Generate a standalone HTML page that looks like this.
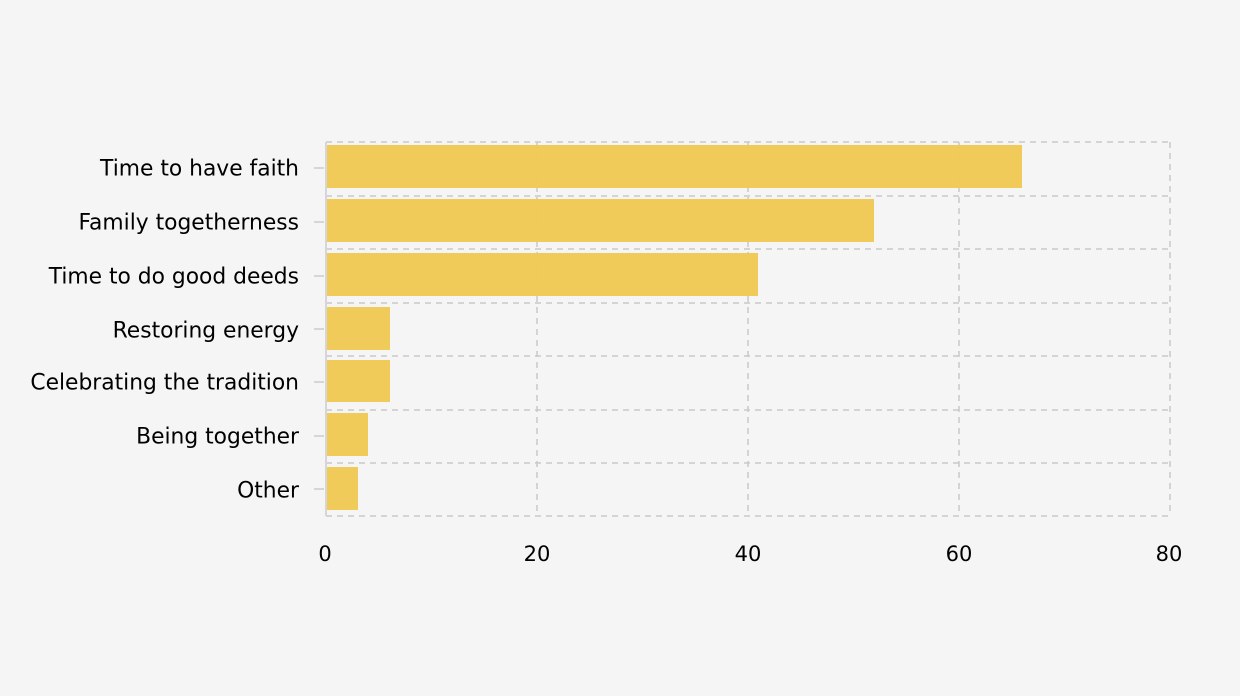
<!DOCTYPE html>
<html><head><style>
html,body{margin:0;padding:0;background:#f5f5f5;}
svg{display:block;}
text{font-family:"DejaVu Sans","Liberation Sans",sans-serif;fill:#000;}
</style></head><body>
<svg width="1240" height="696" viewBox="0 0 1240 696">
<rect width="1240" height="696" fill="#f5f5f5"/>
<g stroke="#cacaca" stroke-width="1.5" stroke-dasharray="6,5" fill="none">
<line x1="326" y1="142" x2="1170" y2="142"/>
<line x1="326" y1="196" x2="1170" y2="196"/>
<line x1="326" y1="249" x2="1170" y2="249"/>
<line x1="326" y1="303" x2="1170" y2="303"/>
<line x1="326" y1="356" x2="1170" y2="356"/>
<line x1="326" y1="410" x2="1170" y2="410"/>
<line x1="326" y1="463" x2="1170" y2="463"/>
<line x1="326" y1="516" x2="1170" y2="516"/>
<line x1="537" y1="142" x2="537" y2="516"/>
<line x1="748" y1="142" x2="748" y2="516"/>
<line x1="959" y1="142" x2="959" y2="516"/>
<line x1="1170" y1="142" x2="1170" y2="516"/>
</g>
<g fill="#f0c850" fill-opacity="0.95">
<rect x="327" y="145" width="695" height="43"/>
<rect x="327" y="199" width="547" height="43"/>
<rect x="327" y="253" width="431" height="43"/>
<rect x="327" y="307" width="63" height="43"/>
<rect x="327" y="360" width="63" height="42"/>
<rect x="327" y="413" width="41" height="43"/>
<rect x="327" y="467" width="31" height="43"/>
</g>
<line x1="326" y1="142" x2="326" y2="516" stroke="#d6d6d6" stroke-width="2"/>
<g stroke="#d6d6d6" stroke-width="2">
<line x1="314" y1="168" x2="324" y2="168"/>
<line x1="314" y1="222" x2="324" y2="222"/>
<line x1="314" y1="276" x2="324" y2="276"/>
<line x1="314" y1="329" x2="324" y2="329"/>
<line x1="314" y1="382" x2="324" y2="382"/>
<line x1="314" y1="436" x2="324" y2="436"/>
<line x1="314" y1="489" x2="324" y2="489"/>
</g>
<g text-anchor="end" font-size="21.8">
<text x="299" y="175.5">Time to have faith</text>
<text x="299" y="229.5">Family togetherness</text>
<text x="299" y="283.5">Time to do good deeds</text>
<text x="299" y="337.5">Restoring energy</text>
<text x="299" y="389.5">Celebrating the tradition</text>
<text x="299" y="443.5">Being together</text>
<text x="299" y="497.5">Other</text>
</g>
<g text-anchor="middle" font-size="21">
<text x="325" y="561">0</text>
<text x="537" y="561">20</text>
<text x="748" y="561">40</text>
<text x="959" y="561">60</text>
<text x="1169" y="561">80</text>
</g>
</svg>
</body></html>
